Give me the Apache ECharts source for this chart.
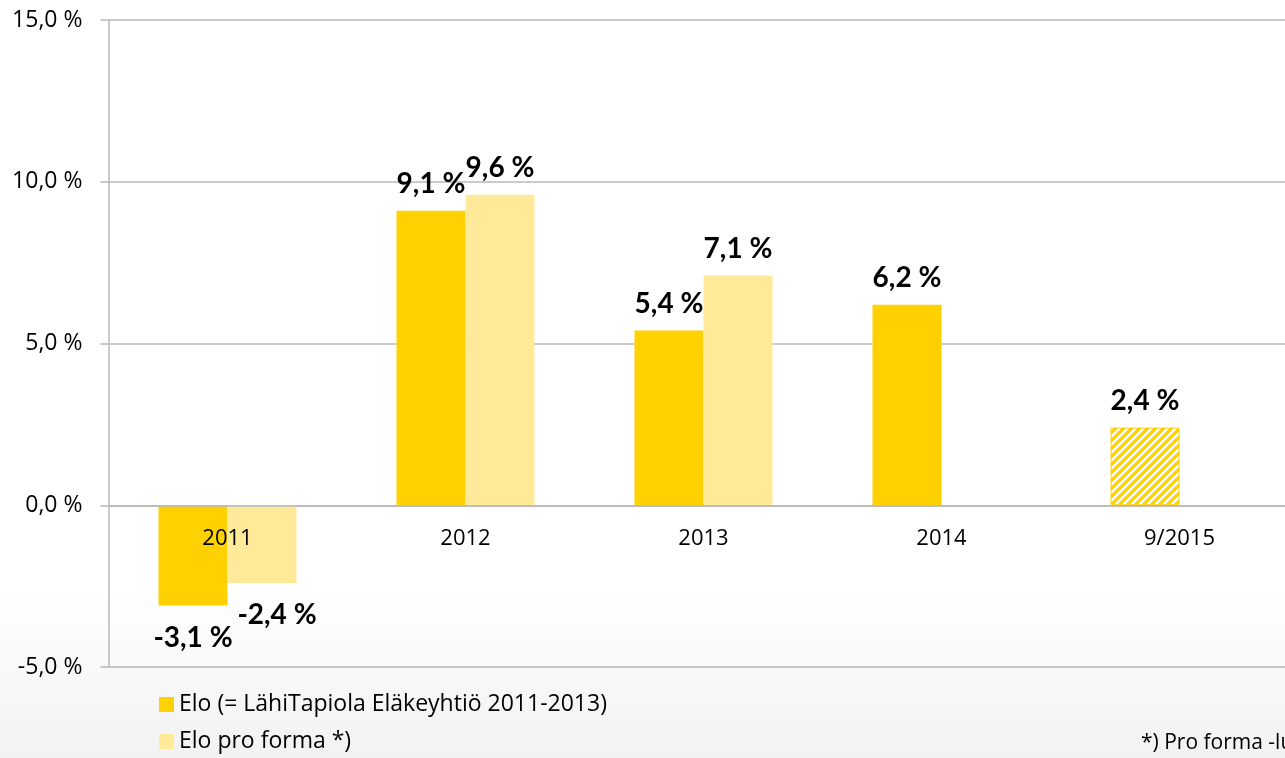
<!DOCTYPE html>
<html>
<head>
<meta charset="utf-8">
<title>Elo tuotto</title>
<script src="https://cdn.jsdelivr.net/npm/echarts@6/dist/echarts.min.js"></script>
<style>
  html, body { margin: 0; padding: 0; overflow: hidden; }
  /* kaavio on leveämpi kuin ikkuna, oikea reuna leikkautuu kuten alkuperäisessä */
  #myChart { width: 1300px; height: 758px; }
</style>
</head>
<body>
<div id="myChart"></div>
<script>
// data
var years = ['2011', '2012', '2013', '2014', '9/2015']
var eloValues = [-3.1, 9.1, 5.4, 6.2, 2.4]
var proFormaValues = [-2.4, 9.6, 7.1, null, null]
var seriesNames = ['Elo (= LähiTapiola Eläkeyhtiö 2011-2013)', 'Elo pro forma *)']
var yTicks = [-5, 0, 5, 10, 15]
var footnote = '*) Pro forma -luvut'

var FONT = '"Open Sans", "Liberation Sans", sans-serif'
var BOLD = 'Lato, "Liberation Sans", sans-serif'
var ELO = '#FFD100'
var PRO = '#FFEA9A'
var AXIS = '#b8b8b8'

var gridTop = 20
var gridHeight = 647
var yMin = yTicks[0]
var yMax = yTicks[yTicks.length - 1]

function pct (v) {
  return v.toFixed(1).replace('.', ',') + ' %'
}

// vinoviivoitus viimeiselle pylväälle
function hatch () {
  var c = document.createElement('canvas')
  c.width = 8
  c.height = 8
  var ctx = c.getContext('2d')
  ctx.fillStyle = '#fff'
  ctx.fillRect(0, 0, 8, 8)
  ctx.strokeStyle = ELO
  ctx.lineWidth = 3.2
  ctx.beginPath()
  ctx.moveTo(-2, 10); ctx.lineTo(10, -2)
  ctx.moveTo(-2, 2); ctx.lineTo(2, -2)
  ctx.moveTo(6, 10); ctx.lineTo(10, 6)
  ctx.stroke()
  return c
}

var lastIdx = years.length - 1
var eloData = eloValues.map(function (v, i) {
  var item = { value: v }
  if (v < 0) item.label = { position: 'bottom', distance: 18 }
  if (i === lastIdx) {
    item.itemStyle = { color: { image: hatch(), repeat: 'repeat' }, borderColor: ELO, borderWidth: 1 }
  }
  return item
})
var proData = proFormaValues.map(function (v) {
  var item = { value: v }
  if (v !== null && v < 0) item.label = { position: 'bottom', distance: 18, offset: [15, 0] }
  return item
})

var labelStyle = {
  show: true,
  position: 'top',
  distance: 13,
  fontFamily: BOLD,
  fontSize: 28,
  fontWeight: 'bold',
  color: '#000'
}

var myChart = echarts.init(document.getElementById('myChart'))
myChart.setOption({
  animation: false,
  backgroundColor: {
    type: 'linear', x: 0, y: 0, x2: 0, y2: 1,
    colorStops: [
      { offset: 0, color: '#ffffff' },
      { offset: 0.77, color: '#ffffff' },
      { offset: 1, color: '#f2f2f2' }
    ]
  },
  grid: { left: 108.5, top: gridTop, height: gridHeight, width: 1190 },
  legend: {
    orient: 'vertical',
    left: 154,
    top: 688,
    height: 80,
    itemWidth: 15,
    itemHeight: 15,
    itemGap: 14,
    icon: 'rect',
    itemStyle: { borderWidth: 0 },
    data: seriesNames,
    textStyle: { fontFamily: FONT, fontSize: 23, color: '#000' }
  },
  xAxis: {
    type: 'category',
    data: years,
    z: 5,
    // akseli nollatasolle
    offset: -gridHeight * (0 - yMin) / (yMax - yMin),
    axisLine: { onZero: false, lineStyle: { color: AXIS, width: 1.5 } },
    axisTick: { length: 8, lineStyle: { color: AXIS, width: 1.5 } },
    axisLabel: { margin: 22, fontFamily: FONT, fontSize: 22, color: '#000' }
  },
  yAxis: {
    type: 'value',
    min: yMin,
    max: yMax,
    interval: 5,
    axisLine: { show: true, lineStyle: { color: AXIS, width: 1.5 } },
    axisTick: { show: true, length: 8, lineStyle: { color: AXIS, width: 1.5 } },
    splitLine: { lineStyle: { color: AXIS, width: 1.5 } },
    axisLabel: { margin: 26, fontFamily: FONT, fontSize: 23, color: '#000', formatter: pct }
  },
  series: [
    {
      name: seriesNames[0],
      type: 'bar',
      barWidth: 69,
      barGap: 0,
      data: eloData,
      itemStyle: { color: ELO },
      label: Object.assign({}, labelStyle, {
        formatter: function (p) { return pct(p.value) }
      })
    },
    {
      name: seriesNames[1],
      type: 'bar',
      barWidth: 69,
      barGap: 0,
      data: proData,
      itemStyle: { color: PRO },
      label: Object.assign({}, labelStyle, {
        formatter: function (p) { return p.value == null ? '' : pct(p.value) }
      })
    }
  ],
  graphic: [
    {
      type: 'text',
      left: 1141,
      top: 733,
      style: { text: footnote, fontFamily: FONT, fontSize: 21, fill: '#000' }
    }
  ]
})
</script>
</body>
</html>
